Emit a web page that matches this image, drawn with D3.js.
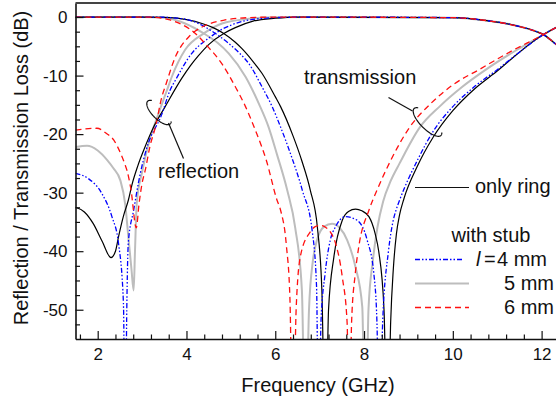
<!DOCTYPE html>
<html>
<head>
<meta charset="utf-8">
<script src="https://cdn.jsdelivr.net/npm/d3@7"></script>
<style>
  body { margin: 0; background: #fff; }
  text { font-family: "Liberation Sans", Arial, sans-serif; fill: #111; }
</style>
</head>
<body>
<script>
// frequency (GHz), level (dB)
let ringS21 = [[1.5,0],[3.0,0],[3.5,-0.05],[3.75,-0.15],[4.0,-0.45],[4.35,-1.1],[4.6,-1.8],[4.84,-2.8],[5.1,-4.3],[5.25,-5.4],[5.5,-7.6],[5.7,-9.6],[6.0,-13.6],[6.12,-15.3],[6.4,-20.3],[6.6,-24.6],[6.79,-29.6],[6.95,-36],[7.05,-46.7],[7.13,-75],[7.2,-50],[7.32,-41],[7.51,-34.7],[7.65,-33.2],[7.81,-32.8],[7.95,-33.1],[8.11,-34.1],[8.25,-37],[8.33,-40],[8.45,-50],[8.53,-75],[8.6,-52],[8.66,-43],[8.73,-37],[8.8,-33.8],[8.9,-31],[9.2,-25.5],[9.56,-20.5],[10.0,-16.0],[10.5,-12.2],[11.02,-9.1],[11.5,-6.0],[12.04,-3.0],[12.3,-1.9],[12.6,-1.0],[13,-0.4]];
let ringS11 = [[1.5,-32.5],[1.7,-33.3],[1.9,-35.3],[2.1,-38.3],[2.3,-41.1],[2.4,-40],[2.47,-37.5],[2.58,-34],[2.69,-31.3],[2.77,-28.7],[2.9,-25.5],[3.05,-22.5],[3.26,-18.8],[3.52,-15.3],[3.9,-10.4],[4.09,-8.3],[4.27,-6.6],[4.5,-4.7],[4.84,-2.8],[5.1,-1.8],[5.5,-0.7],[6.0,-0.2],[6.5,0],[10.0,-0.1],[10.76,-0.6],[11.44,-1.5],[11.89,-2.5],[12.04,-3.0],[12.3,-4.5],[12.6,-6.5],[13,-9.5]];

let stub4S21 = [[1.5,0],[3.3,0],[3.8,-0.2],[4.1,-0.6],[4.35,-1.4],[4.61,-2.6],[4.95,-4.5],[5.2,-6.2],[5.4,-7.9],[5.7,-11.9],[5.93,-15.3],[6.12,-18.8],[6.35,-23.5],[6.61,-29.6],[6.83,-36.4],[6.93,-46],[6.98,-75],[7.03,-52],[7.12,-44],[7.24,-38.1],[7.36,-35.8],[7.58,-34.1],[7.84,-34.7],[8.07,-38.1],[8.22,-43.8],[8.29,-52],[8.35,-75],[8.42,-52],[8.55,-40],[8.65,-35],[8.72,-33],[8.8,-31.3],[9.2,-24.5],[9.56,-19.5],[10.0,-15.3],[10.5,-11.8],[11.0,-9.0],[11.5,-6.0],[12.04,-3.0],[12.3,-1.9],[12.6,-1.0],[13,-0.4]];
let stub4S11 = [[1.5,-26.7],[1.79,-27.6],[2.09,-30.1],[2.32,-34.1],[2.47,-38.7],[2.58,-48.9],[2.62,-75],[2.655,-50],[2.69,-38.5],[2.81,-33],[2.96,-26.7],[3.1,-22.5],[3.45,-16.5],[3.63,-12.5],[3.75,-10.8],[4.12,-6.2],[4.5,-3.6],[4.61,-3.0],[4.8,-2.1],[5.03,-1.3],[5.6,-0.3],[6.2,-0.05],[7,0],[10.0,-0.1],[10.76,-0.6],[11.44,-1.5],[11.89,-2.5],[12.04,-3.0],[12.3,-4.5],[12.6,-6.5],[13,-9.5]];

let stub5S21 = [[1.5,0],[3.0,0],[3.5,-0.1],[3.75,-0.5],[3.97,-1.1],[4.39,-2.8],[4.7,-4.4],[4.95,-6.2],[5.33,-10.2],[5.63,-14.8],[5.85,-18.8],[6.04,-23.5],[6.27,-29.6],[6.45,-36],[6.6,-46.7],[6.68,-75],[6.76,-50],[6.85,-41.5],[6.94,-38.1],[7.1,-35.8],[7.28,-35.3],[7.45,-36.0],[7.62,-38.1],[7.8,-42.5],[7.96,-49.5],[8.03,-75],[8.1,-50],[8.2,-41.5],[8.3,-36],[8.43,-31.5],[8.6,-28],[8.8,-25.0],[9.26,-18.8],[9.7,-15.3],[10.2,-12.0],[10.76,-8.9],[11.4,-5.8],[12.04,-3.0],[12.3,-1.9],[12.6,-1.0],[13,-0.4]];
let stub5S11 = [[1.5,-22.2],[1.76,-22.0],[2.0,-22.8],[2.21,-24.4],[2.35,-25.8],[2.51,-27.9],[2.62,-32],[2.69,-37.5],[2.76,-43],[2.81,-46.7],[2.84,-40],[2.88,-31.8],[3.0,-26.5],[3.15,-21.5],[3.37,-16.5],[3.56,-12.5],[3.67,-10.2],[3.97,-5.6],[4.39,-2.8],[4.8,-1.1],[5.4,-0.3],[6,-0.05],[7,0],[10.0,-0.1],[10.76,-0.6],[11.44,-1.5],[11.89,-2.5],[12.04,-3.0],[12.3,-4.5],[12.6,-6.5],[13,-9.5]];

let stub6S21 = [[1.5,0],[3.15,0],[3.63,-0.5],[3.93,-1.4],[4.2,-2.8],[4.45,-4.8],[4.8,-8.0],[5.1,-11.9],[5.33,-15.3],[5.55,-19.3],[5.8,-24.5],[6.04,-31.3],[6.12,-33],[6.25,-39],[6.33,-48],[6.4,-75],[6.47,-50],[6.57,-40.7],[6.79,-36.7],[6.9,-35.8],[7.02,-35.6],[7.13,-35.9],[7.24,-36.7],[7.36,-38.7],[7.51,-44.4],[7.62,-52.4],[7.66,-75],[7.72,-52],[7.8,-44],[7.88,-39.3],[8.11,-33.0],[8.29,-29.6],[8.6,-24.5],[9.03,-18.8],[9.5,-14.8],[10.0,-11.6],[10.61,-8.9],[11.3,-5.9],[12.04,-3.0],[12.3,-1.9],[12.6,-1.0],[13,-0.4]];
let stub6S11 = [[1.5,-19.3],[1.98,-19.0],[2.2,-19.9],[2.36,-21.0],[2.5,-23],[2.62,-25.3],[2.66,-26.2],[2.75,-29.5],[2.87,-36],[2.93,-32],[3.0,-28.4],[3.07,-26.2],[3.18,-22],[3.3,-18.8],[3.45,-13.5],[3.52,-11.9],[3.75,-6.8],[4.05,-3.4],[4.2,-2.4],[4.35,-1.7],[4.87,-0.5],[5.4,-0.1],[6,0],[10.0,-0.1],[10.76,-0.6],[11.44,-1.5],[11.89,-2.5],[12.04,-3.0],[12.3,-4.5],[12.6,-6.5],[13,-9.5]];

let xTicks = [2, 4, 6, 8, 10, 12];
let yTicks = [0, -10, -20, -30, -40, -50];
let legendLabels = ["4 mm", "5 mm", "6 mm"];

let svg = d3.select("body").append("svg")
    .attr("width", 556)
    .attr("height", 400);

let x = d3.scaleLinear().domain([1.5, 13]).range([75.5, 586]);
let y = d3.scaleLinear().domain([-55, 2.4]).range([339, 3]);

svg.append("clipPath").attr("id", "plot")
    .append("rect")
    .attr("x", x.range()[0]).attr("y", y.range()[1])
    .attr("width", x.range()[1] - x.range()[0])
    .attr("height", y.range()[0] - y.range()[1]);

// line styles for each configuration
let styles = {
    ring: {color: "#000", width: 1.2, dash: null},
    l4:   {color: "#0000ff", width: 1.3, dash: "5,2,1.5,2,1.5,2"},
    l5:   {color: "#bdbdbd", width: 2, dash: null},
    l6:   {color: "#ff1010", width: 1.3, dash: "6,4"}
};

let curves = [
    {data: stub5S21, s: styles.l5}, {data: stub5S11, s: styles.l5},
    {data: ringS21, s: styles.ring}, {data: ringS11, s: styles.ring},
    {data: stub4S21, s: styles.l4}, {data: stub4S11, s: styles.l4},
    {data: stub6S21, s: styles.l6}, {data: stub6S11, s: styles.l6}
];

let line = d3.line()
    .x((d) => x(d[0]))
    .y((d) => y(d[1]))
    .curve(d3.curveMonotoneX);

svg.append("g")
    .attr("clip-path", "url(#plot)")
    .selectAll("path")
    .data(curves)
    .enter()
    .append("path")
        .attr("d", (d) => line(d.data))
        .style("fill", "none")
        .style("stroke", (d) => d.s.color)
        .style("stroke-width", (d) => d.s.width)
        .style("stroke-dasharray", (d) => d.s.dash);

// axes, ticks pointing inward
let xMinor = d3.range(1.6, 13, 0.4).filter((v) => Math.abs(v / 2 - Math.round(v / 2)) > 0.01);
let yMinor = d3.range(-52.5, 2.4, 2.5).filter((v) => v % 10 != 0);

let xAxis = svg.append("g")
    .attr("transform", "translate(0," + y.range()[0] + ")")
    .call(d3.axisBottom(x).tickValues(xTicks).tickSizeInner(-8).tickSizeOuter(0).tickPadding(9));
svg.append("g")
    .attr("transform", "translate(0," + y.range()[0] + ")")
    .call(d3.axisBottom(x).tickValues(xMinor).tickSizeInner(-4.5).tickSizeOuter(0).tickFormat(""))
    .select(".domain").remove();

let yAxis = svg.append("g")
    .attr("transform", "translate(" + x.range()[0] + ",0)")
    .call(d3.axisLeft(y).tickValues(yTicks).tickSizeInner(-8).tickSizeOuter(0).tickPadding(8));
svg.append("g")
    .attr("transform", "translate(" + x.range()[0] + ",0)")
    .call(d3.axisLeft(y).tickValues(yMinor).tickSizeInner(-4.5).tickSizeOuter(0).tickFormat(""))
    .select(".domain").remove();

svg.selectAll(".tick line").style("stroke", "#111").style("stroke-width", 1.2);
svg.selectAll(".domain").style("stroke", "#111").style("stroke-width", 1.6);
svg.selectAll(".tick text")
    .style("font-size", "17px")
    .style("font-family", "'Liberation Sans', Arial, sans-serif")
    .style("fill", "#111");
yAxis.selectAll(".tick text").text((d) => d == 0 ? "0" : "-" + Math.abs(d));

// top frame
svg.append("line")
    .attr("x1", x.range()[0]).attr("x2", x.range()[1])
    .attr("y1", y.range()[1]).attr("y2", y.range()[1])
    .style("stroke", "#444").style("stroke-width", 2);

// axis titles
svg.append("text")
    .text("Frequency (GHz)")
    .attr("x", 318).attr("y", 392)
    .attr("text-anchor", "middle")
    .style("font-size", "20px");
svg.append("text")
    .text("Reflection / Transmission Loss (dB)")
    .attr("transform", "translate(27.5,168) rotate(-90)")
    .attr("text-anchor", "middle")
    .style("font-size", "20px");

// annotations
let loop = (cx, cy, rx, ry, rot, t0, t1) => {
    let pts = d3.range(t0, t1, 0.05).map((t) => {
        let a = rx * Math.cos(t), b = ry * Math.sin(t);
        return [cx + a * Math.cos(rot) - b * Math.sin(rot), cy + a * Math.sin(rot) + b * Math.cos(rot)];
    });
    svg.append("path")
        .attr("d", d3.line()(pts))
        .style("fill", "none").style("stroke", "#111").style("stroke-width", 1.2);
};
let leader = (x1, y1, x2, y2) => {
    svg.append("line")
        .attr("x1", x1).attr("y1", y1).attr("x2", x2).attr("y2", y2)
        .style("stroke", "#111").style("stroke-width", 1.2);
};

loop(159, 112.5, 16, 6.5, Math.PI / 4, -0.35, 3.75);
leader(168.5, 123, 183.5, 158.5);
svg.append("text").text("reflection").attr("x", 158).attr("y", 178).style("font-size", "20px");

loop(427.5, 122, 19, 7, Math.PI / 4, -0.4, 3.7);
leader(388.5, 97.5, 412.5, 111);
svg.append("text").text("transmission").attr("x", 304).attr("y", 84).style("font-size", "20px");

leader(415, 187.5, 469, 187.5);
svg.append("text").text("only ring").attr("x", 475).attr("y", 193).style("font-size", "20px");

// legend
svg.append("text").text("with stub").attr("x", 451.5).attr("y", 242).style("font-size", "20px");
let legendStyles = [styles.l4, styles.l5, styles.l6];
legendStyles.forEach((s, i) => {
    let ly = 259.5 + i * 24;
    svg.append("line")
        .attr("x1", 415).attr("x2", i == 0 ? 464 : 469)
        .attr("y1", ly).attr("y2", ly)
        .style("stroke", s.color).style("stroke-width", s.width)
        .style("stroke-dasharray", s.dash);
});
let t4 = svg.append("text").attr("y", 265.5).style("font-size", "20px");
t4.append("tspan").attr("x", 476).style("font-style", "italic").text("l");
t4.append("tspan").attr("x", 484).text("=");
t4.append("tspan").attr("x", 497).text(legendLabels[0]);
svg.append("text").text(legendLabels[1]).attr("x", 504).attr("y", 289.5).style("font-size", "20px");
svg.append("text").text(legendLabels[2]).attr("x", 504).attr("y", 313.5).style("font-size", "20px");
</script>
</body>
</html>
